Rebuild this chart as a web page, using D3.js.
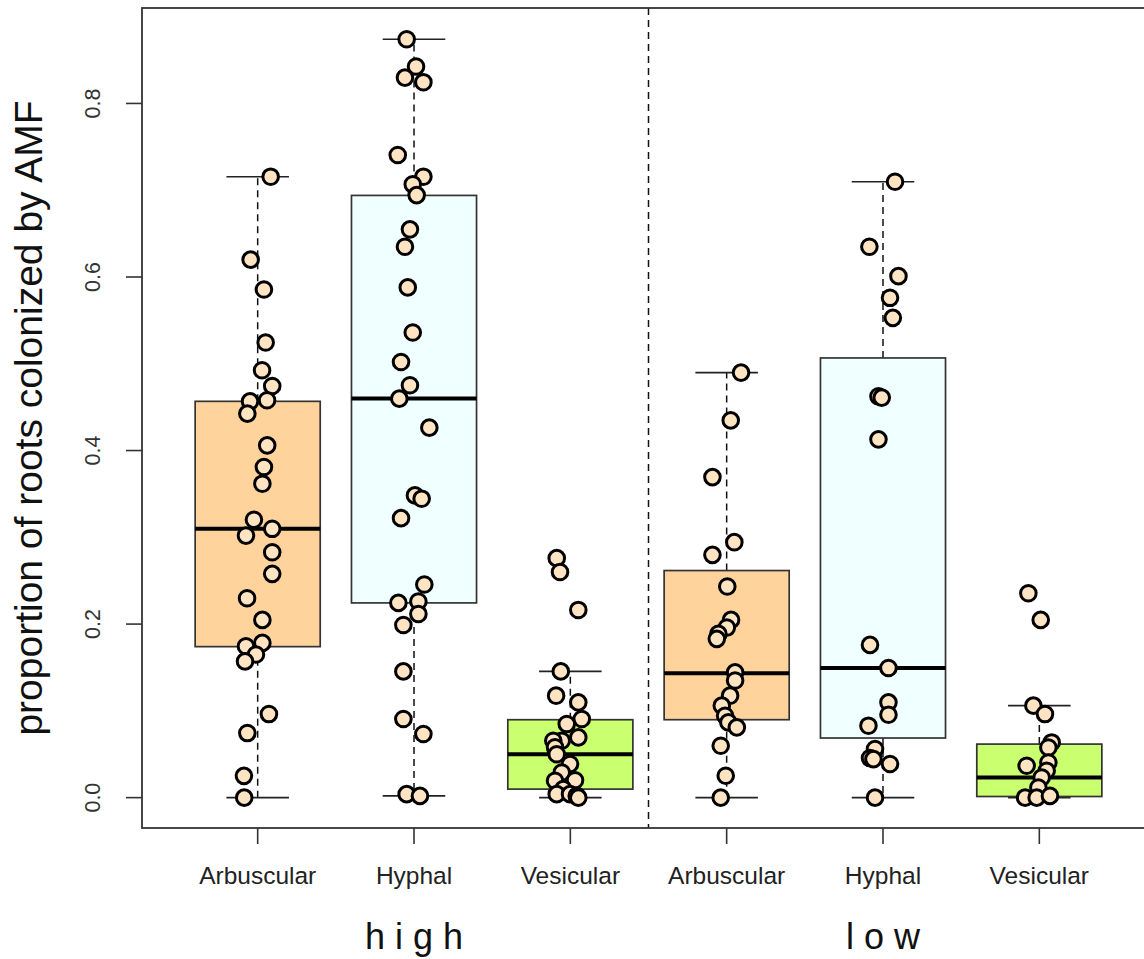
<!DOCTYPE html>
<html>
<head>
<meta charset="utf-8">
<script src="https://cdn.jsdelivr.net/npm/d3@7"></script>
<style>
  html, body { margin: 0; padding: 0; background: #fff; }
  svg { display: block; font-family: "Liberation Sans", Arial, sans-serif; }
</style>
</head>
<body>
<svg id="chart" width="1144" height="959"></svg>
<script>
// ---- Data ----
const categories = ["Arbuscular", "Hyphal", "Vesicular", "Arbuscular", "Hyphal", "Vesicular"];
const groups = ["h i g h", "l o w"];
const boxFills = ["#FFD39B", "#F0FFFF", "#CAFF70", "#FFD39B", "#F0FFFF", "#CAFF70"];
const yTicks = [0.0, 0.2, 0.4, 0.6, 0.8];

// box statistics
const whiskLo = [0.0, 0.002, 0.0, 0.0, 0.0, 0.0];
const q1      = [0.174, 0.2244, 0.0098, 0.0898, 0.0687, 0.0013];
const median  = [0.310, 0.460, 0.050, 0.1432, 0.1494, 0.0232];
const q3      = [0.4567, 0.694, 0.0898, 0.2617, 0.5067, 0.0617];
const whiskHi = [0.7156, 0.874, 0.1455, 0.4898, 0.7098, 0.106];

// individual observations (value) and horizontal jitter (in category units)
const arbHighVals = [0.7156,0.620,0.5856,0.5245,0.4925,0.4744,0.4579,0.4567,0.4425,0.406,0.381,0.3618,0.3202,0.3098,0.302,0.2828,0.2579,0.2298,0.2048,0.1783,0.1744,0.165,0.157,0.0963,0.0744,0.0251,0.0];
const arbHighJit  = [0.083,-0.045,0.04,0.051,0.028,0.093,0.06,-0.049,-0.066,0.061,0.04,0.03,-0.024,0.093,-0.075,0.093,0.093,-0.068,0.03,0.03,-0.075,-0.011,-0.081,0.072,-0.066,-0.088,-0.086];

const hypHighVals = [0.874,0.8425,0.8298,0.8245,0.7406,0.7156,0.7068,0.6944,0.6549,0.6348,0.588,0.536,0.502,0.4752,0.4598,0.4264,0.3483,0.3445,0.3221,0.2456,0.2244,0.226,0.2117,0.199,0.1455,0.0906,0.0733,0.004,0.002];
const hypHighJit  = [-0.047,0.013,-0.058,0.06,-0.104,0.06,-0.008,0.017,-0.026,-0.058,-0.04,-0.008,-0.083,-0.026,-0.094,0.098,0.006,0.049,-0.083,0.066,-0.1,0.028,0.028,-0.068,-0.068,-0.068,0.06,-0.047,0.038];

const vesHighVals = [0.276,0.260,0.2163,0.1455,0.1175,0.1098,0.0906,0.0848,0.0694,0.0655,0.0655,0.058,0.050,0.0387,0.029,0.020,0.0194,0.0098,0.004,0.004,0.002,0.0];
const vesHighJit  = [-0.087,-0.066,0.051,-0.061,-0.091,0.051,0.073,-0.023,0.051,-0.055,-0.109,-0.098,-0.087,-0.002,-0.055,0.03,-0.098,-0.045,-0.087,-0.002,0.041,0.051];

const arbLowVals = [0.4898,0.4348,0.3694,0.2944,0.2798,0.2433,0.2048,0.196,0.1887,0.183,0.1444,0.135,0.1175,0.106,0.0944,0.0867,0.081,0.0598,0.0252,0.0];
const arbLowJit  = [0.092,0.026,-0.091,0.049,-0.091,0.004,0.028,0.001,-0.053,-0.063,0.054,0.054,0.022,-0.031,-0.01,0.011,0.065,-0.038,-0.006,-0.038];

const hypLowVals = [0.7098,0.6348,0.601,0.576,0.5529,0.4625,0.461,0.4129,0.176,0.1494,0.1098,0.0955,0.0829,0.056,0.0456,0.0444,0.0387,0.0];
const hypLowJit  = [0.077,-0.087,0.099,0.045,0.063,-0.029,-0.008,-0.029,-0.083,0.035,0.035,0.035,-0.093,-0.051,-0.083,-0.061,0.045,-0.051];

const vesLowVals = [0.2355,0.2048,0.106,0.0963,0.0636,0.0578,0.0405,0.0367,0.031,0.0232,0.0117,0.0,0.0,0.002];
const vesLowJit  = [-0.07,0.009,-0.038,0.036,0.079,0.058,0.058,-0.081,0.047,0.015,-0.006,-0.091,-0.017,0.068];

const pointVals = [arbHighVals, hypHighVals, vesHighVals, arbLowVals, hypLowVals, vesLowVals];
const pointJit  = [arbHighJit, hypHighJit, vesHighJit, arbLowJit, hypLowJit, vesLowJit];

// ---- Layout ----
const svg = d3.select("#chart");
const plotLeft = 142, plotRight = 1155, plotTop = 8, plotBottom = 828;

const x = d3.scaleLinear().domain([0.26, 6.74]).range([plotLeft, plotRight]);
const y = d3.scaleLinear().domain([-0.035, 0.91]).range([plotBottom, plotTop]);
const unit = x(2) - x(1);
const boxW = 0.8 * unit;
const stapleW = 0.4 * unit;

const idx = d3.range(categories.length);

// boxes
const g = svg.append("g");
idx.forEach(i => {
  const cx = x(i + 1);
  g.append("line").attr("x1", cx).attr("x2", cx).attr("y1", y(q3[i])).attr("y2", y(whiskHi[i]))
    .attr("stroke", "#111").attr("stroke-width", 1.5).attr("stroke-dasharray", "7,5");
  g.append("line").attr("x1", cx).attr("x2", cx).attr("y1", y(q1[i])).attr("y2", y(whiskLo[i]))
    .attr("stroke", "#111").attr("stroke-width", 1.5).attr("stroke-dasharray", "7,5");
  [whiskHi[i], whiskLo[i]].forEach(v => {
    g.append("line").attr("x1", cx - stapleW / 2).attr("x2", cx + stapleW / 2)
      .attr("y1", y(v)).attr("y2", y(v)).attr("stroke", "#222").attr("stroke-width", 1.6);
  });
  g.append("rect").attr("x", cx - boxW / 2).attr("width", boxW)
    .attr("y", y(q3[i])).attr("height", y(q1[i]) - y(q3[i]))
    .attr("fill", boxFills[i]).attr("stroke", "#333").attr("stroke-width", 1.7);
  g.append("line").attr("x1", cx - boxW / 2).attr("x2", cx + boxW / 2)
    .attr("y1", y(median[i])).attr("y2", y(median[i]))
    .attr("stroke", "#000").attr("stroke-width", 4);
});

// separator
svg.append("line").attr("x1", x(3.5)).attr("x2", x(3.5)).attr("y1", plotTop).attr("y2", plotBottom)
  .attr("stroke", "#111").attr("stroke-width", 1.5).attr("stroke-dasharray", "7,5");

// points
idx.forEach(i => {
  svg.append("g").selectAll("circle").data(pointVals[i].map((v, k) => ({ v, j: pointJit[i][k] })))
    .join("circle")
    .attr("cx", d => x(i + 1 + d.j))
    .attr("cy", d => y(d.v))
    .attr("r", 7.8)
    .attr("fill", "#FFE4C4")
    .attr("stroke", "#000")
    .attr("stroke-width", 3);
});

// frame
svg.append("rect").attr("x", plotLeft).attr("y", plotTop)
  .attr("width", plotRight - plotLeft).attr("height", plotBottom - plotTop)
  .attr("fill", "none").attr("stroke", "#333").attr("stroke-width", 1.8);

// y axis
const yAxis = svg.append("g");
yTicks.forEach(t => {
  yAxis.append("line").attr("x1", plotLeft - 16).attr("x2", plotLeft).attr("y1", y(t)).attr("y2", y(t))
    .attr("stroke", "#333").attr("stroke-width", 1.6);
  yAxis.append("text").attr("transform", `translate(100,${y(t)}) rotate(-90)`)
    .attr("text-anchor", "middle").attr("font-size", 21.5).attr("fill", "#333")
    .text(d3.format(".1f")(t));
});

// x axis
const xAxis = svg.append("g");
idx.forEach(i => {
  xAxis.append("line").attr("x1", x(i + 1)).attr("x2", x(i + 1)).attr("y1", plotBottom).attr("y2", plotBottom + 16)
    .attr("stroke", "#333").attr("stroke-width", 1.6);
  xAxis.append("text").attr("x", x(i + 1)).attr("y", 884).attr("text-anchor", "middle")
    .attr("font-size", 24.5).attr("fill", "#222").text(categories[i]);
});

// group labels
groups.forEach((gname, k) => {
  svg.append("text").attr("x", x(2 + 3 * k)).attr("y", 949).attr("text-anchor", "middle")
    .attr("font-size", 36).attr("fill", "#111").attr("xml:space", "preserve")
    .style("white-space", "pre").text(gname);
});

// y title
svg.append("text").attr("transform", `translate(42,${(plotTop + plotBottom) / 2}) rotate(-90)`)
  .attr("text-anchor", "middle").attr("font-size", 39).attr("fill", "#111")
  .text("proportion of roots colonized by AMF");
</script>
</body>
</html>
